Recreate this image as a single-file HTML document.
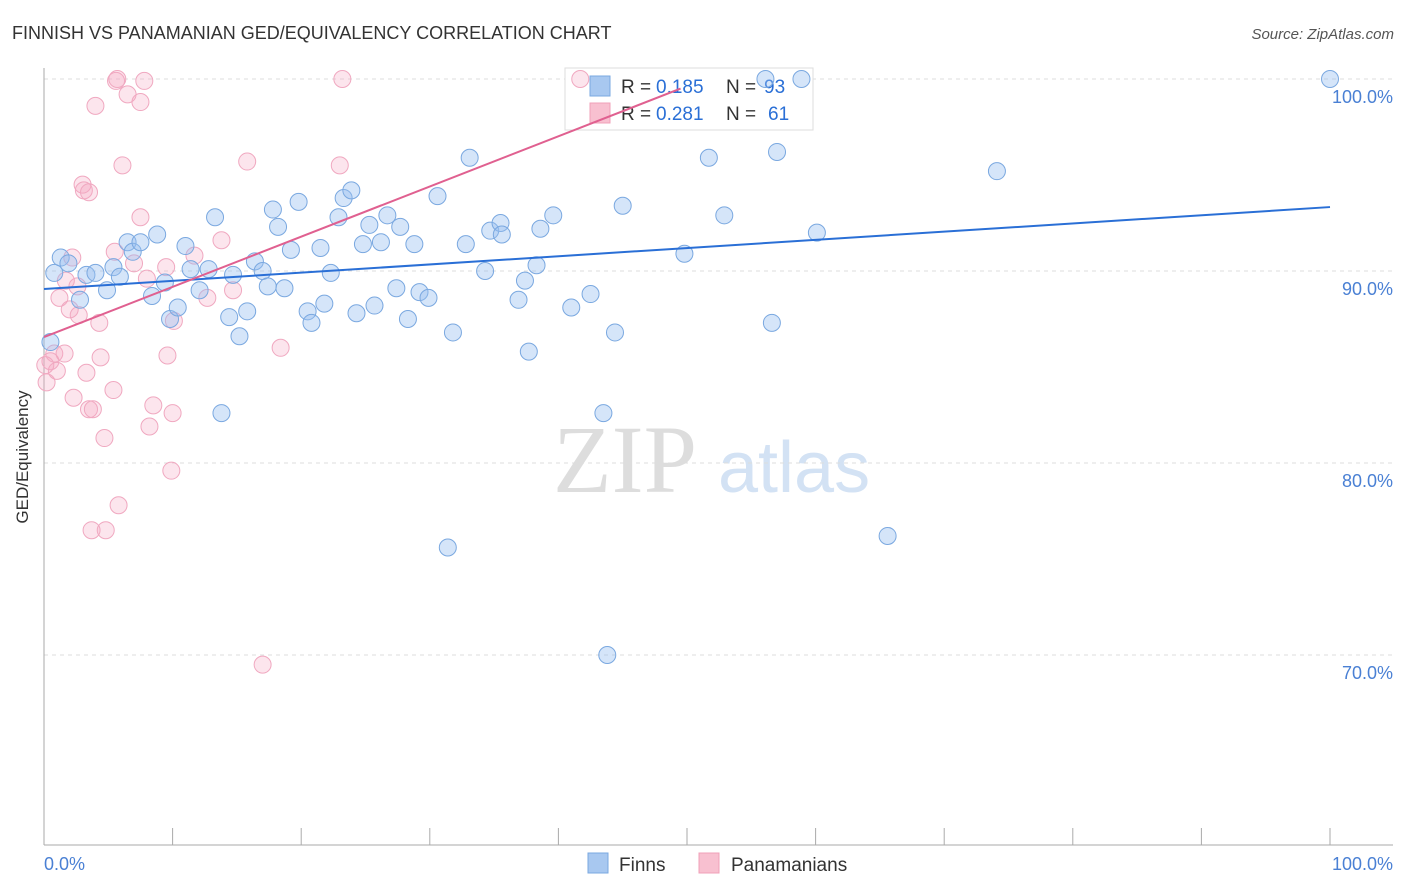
<!DOCTYPE html>
<html><head><meta charset="utf-8"><style>
body{margin:0;background:#fff;font-family:"Liberation Sans",sans-serif}
svg{display:block}
</style></head><body>
<svg id="c" width="1406" height="892" xmlns="http://www.w3.org/2000/svg">
<text x="12" y="39" font-size="18" fill="#333">FINNISH VS PANAMANIAN GED/EQUIVALENCY CORRELATION CHART</text>
<text x="1394" y="39" font-size="15" fill="#555" font-style="italic" text-anchor="end">Source: ZipAtlas.com</text>
<g>
<text x="553" y="492" font-size="96" fill="#ddd" font-family="Liberation Serif,serif">ZIP</text>
<text x="718" y="492" font-size="72" fill="#d3e2f4">atlas</text>
</g>
<g id="grid"></g><g id="axes"></g>
<g>
<rect x="565" y="68" width="248" height="62" fill="#fff" stroke="#ddd"/>
<rect x="590" y="76" width="20" height="20" fill="#a8c8f0" stroke="#7aa8e0"/>
<text x="621" y="93" font-size="19" fill="#333">R =</text>
<text x="656" y="93" font-size="19" fill="#2a6fd6">0.185</text>
<text x="726" y="93" font-size="19" fill="#333">N =</text>
<text x="764" y="93" font-size="19" fill="#2a6fd6">93</text>
<rect x="590" y="103" width="20" height="20" fill="#f8c0d0" stroke="#f0a0b8"/>
<text x="621" y="120" font-size="19" fill="#333">R =</text>
<text x="656" y="120" font-size="19" fill="#2a6fd6">0.281</text>
<text x="726" y="120" font-size="19" fill="#333">N =</text>
<text x="768" y="120" font-size="19" fill="#2a6fd6">61</text>
</g>
<g id="pts"></g><g id="trend"></g>
<text x="28" y="457" font-size="17" fill="#333" text-anchor="middle" transform="rotate(-90 28 457)">GED/Equivalency</text>
<g>
<rect x="588" y="853" width="20" height="20" fill="#a8c8f0" stroke="#7aa8e0"/>
<text x="619" y="871" font-size="19" fill="#333">Finns</text>
<rect x="699" y="853" width="20" height="20" fill="#f8c0d0" stroke="#f0a0b8"/>
<text x="731" y="871" font-size="19" fill="#333">Panamanians</text>
</g>
</svg>
<script>
const yTicks=[100,90,80,70];
const yTickLabels=["100.0%","90.0%","80.0%","70.0%"];
const xTickLabels=["0.0%","100.0%"];
const finnsX=[0.8,1.3,1.9,2.8,3.3,4.0,4.9,5.4,5.9,6.5,6.9,7.5,8.4,8.8,9.4,9.8,10.4,11.0,11.4,12.1,12.8,13.3,14.4,14.7,15.2,15.8,16.4,17.0,17.4,17.8,18.2,18.7,19.2,19.8,20.5,20.8,21.5,21.8,22.3,22.9,23.3,23.9,24.3,24.8,25.3,25.7,26.2,26.7,27.4,27.7,28.3,28.8,29.2,29.9,30.6,31.4,31.8,32.8,33.1,34.3,34.7,35.5,35.6,36.9,37.4,37.7,38.3,38.6,39.6,41.0,42.5,43.5,43.8,44.4,45.0,49.8,51.7,52.9,56.6,57.0,58.9,60.1,65.6,74.1,100,0.5,13.8,56.1];
const finnsY=[89.9,90.7,90.4,88.5,89.8,89.9,89.0,90.2,89.7,91.5,91.0,91.5,88.7,91.9,89.4,87.5,88.1,91.3,90.1,89.0,90.1,92.8,87.6,89.8,86.6,87.9,90.5,90.0,89.2,93.2,92.3,89.1,91.1,93.6,87.9,87.3,91.2,88.3,89.9,92.8,93.8,94.2,87.8,91.4,92.4,88.2,91.5,92.9,89.1,92.3,87.5,91.4,88.9,88.6,93.9,75.6,86.8,91.4,95.9,90.0,92.1,92.5,91.9,88.5,89.5,85.8,90.3,92.2,92.9,88.1,88.8,82.6,70.0,86.8,93.4,90.9,95.9,92.9,87.3,96.2,100,92.0,76.2,95.2,100,86.3,82.6,100];
const panX=[0.2,0.5,0.8,1.0,1.2,1.6,1.7,2.0,2.2,2.3,2.6,2.7,3.0,3.1,3.3,3.5,3.5,3.7,3.8,4.0,4.3,4.4,4.7,4.8,5.4,5.5,5.6,5.7,5.8,6.1,6.5,7.0,7.5,7.5,7.8,8.0,8.2,8.5,9.5,9.6,9.9,10.0,10.1,11.7,12.7,13.8,14.7,15.8,17.0,18.4,23.0,23.2,41.7,0.1];
const panY=[84.2,85.3,85.7,84.8,88.6,85.7,89.5,88.0,90.7,83.4,89.2,87.7,94.5,94.2,84.7,94.1,82.8,76.5,82.8,98.6,87.3,85.5,81.3,76.5,83.8,91.0,99.9,100,77.8,95.5,99.2,90.4,98.8,92.8,99.9,89.6,81.9,83.0,90.2,85.6,79.6,82.6,87.4,90.8,88.6,91.6,89.0,95.7,69.5,86.0,95.5,100,100,85.1];
const finnsTrend=[89.06,93.33];
const panTrend=[86.56,99.5];const panTrendEnd=49.5;
const X=v=>44+v*12.86, Y=v=>79+(100-v)*19.2;
const NS="http://www.w3.org/2000/svg";
function mk(tag,attrs,parent,text){const e=document.createElementNS(NS,tag);for(const k in attrs)e.setAttribute(k,attrs[k]);if(text!==undefined)e.textContent=text;document.getElementById(parent).appendChild(e);return e;}
yTicks.forEach((t,i)=>{
 const g=mk('line',{x1:44,x2:1393,y1:Y(t),y2:Y(t),stroke:'#ddd','stroke-dasharray':'4,4'},'grid');
 
 
 const l=mk('text',{x:1393,y:Y(t)+24,'font-size':18,fill:'#4a80d4','text-anchor':'end'},'grid',yTickLabels[i]);
 
 
});
const ya=mk('line',{x1:44,x2:44,y1:68,y2:845,stroke:'#aaa'},'axes');


const xa=mk('line',{x1:44,x2:1393,y1:845,y2:845,stroke:'#aaa'},'axes');


for(let i=0;i<=10;i++){const t=mk('line',{x1:X(i*10),x2:X(i*10),y1:828,y2:845,stroke:'#aaa'},'axes');
 
 }
const xl0=mk('text',{x:44,y:870,'font-size':18,fill:'#4a80d4'},'axes',xTickLabels[0]);


const xl1=mk('text',{x:1393,y:870,'font-size':18,fill:'#4a80d4','text-anchor':'end'},'axes',xTickLabels[1]);


panX.forEach((x,i)=>{const c=mk('circle',{cx:X(x),cy:Y(panY[i]),r:8.5,fill:'rgba(246,170,196,0.3)',stroke:'#f0a8c0','stroke-width':1},'pts');
 
 });
finnsX.forEach((x,i)=>{const c=mk('circle',{cx:X(x),cy:Y(finnsY[i]),r:8.5,fill:'rgba(150,190,240,0.4)',stroke:'#7aa8e0','stroke-width':1},'pts');
 
 });
const bt=mk('line',{x1:X(0),y1:Y(finnsTrend[0]),x2:X(100),y2:Y(finnsTrend[1]),stroke:'#2a6fd6','stroke-width':2},'trend');


const pt=mk('line',{x1:X(0),y1:Y(panTrend[0]),x2:X(panTrendEnd),y2:Y(panTrend[1]),stroke:'#e06090','stroke-width':2},'trend');


</script>
</body></html>
